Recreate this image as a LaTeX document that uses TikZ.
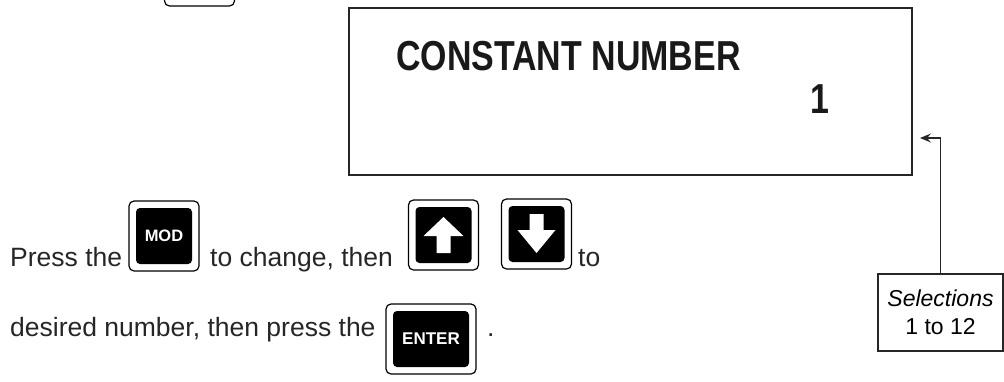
\documentclass[tikz,border=0pt]{standalone}
\usepackage{fontspec}
\setmainfont{Liberation Sans}
\newfontfamily\lcdfont{Liberation Sans}[FakeStretch=0.81]
\usepackage{tikz}
\usetikzlibrary{arrows.meta, positioning, calc}

\begin{document}
\begin{tikzpicture}[
		x=1pt, y=-1pt,
		font=\fontsize{26.5}{32}\selectfont,
		keyOut/.style={rectangle, rounded corners=5pt, draw=black, line width=1.2pt, fill=white, minimum width=70pt, minimum height=70pt, inner sep=0pt},
		keyIn/.style={rectangle, rounded corners=4pt, fill=black, text=white, minimum width=56pt, minimum height=56pt, inner sep=0pt, font=\bfseries\fontsize{16.5}{16.5}\selectfont},
		lcdBox/.style={rectangle, draw=black!85, line width=1.5pt, minimum width=563pt, minimum height=167pt},
		lcdText/.style={anchor=base west, inner sep=0pt, text=black!90, font=\lcdfont\bfseries\fontsize{41.9}{44}\selectfont},
		noteBox/.style={rectangle, draw=black!85, line width=1.3pt, minimum width=125pt, minimum height=77pt, align=center, inner sep=0pt, font=\fontsize{23}{28}\selectfont},
		txt/.style={anchor=base west, inner sep=0pt, text=black!85},
		arrow/.style={-{Stealth[length=11pt, width=9pt, inset=4pt]}, line width=1.4pt, draw=black!85}
		]

		\useasboundingbox (0,0) rectangle (1004,381);
		\clip (0,0) rectangle (1004,381);

		% Display
		\node[lcdBox] (lcd) at (630.5,91.5) {};
		\node[lcdText] (title) at (396,70) {CONSTANT NUMBER};
		\node[lcdText, anchor=base] (value) at (820,113) {1};

		% Keys
		\node[keyOut] (topKey) at (199.5,-29) {};
		\node[keyOut] (modOut) at (164,236) {};
		\node[keyIn] (mod) at (modOut) {MOD};
		\node[keyOut] (upOut) at (443.5,235) {};
		\node[keyIn] (up) at (upOut) {};
		\node[keyOut] (downOut) at (536.5,234) {};
		\node[keyIn] (down) at (downOut) {};
		\node[keyOut, minimum width=90pt] (enterOut) at (431,339) {};
		\node[keyIn, minimum width=76pt, font=\bfseries\fontsize{17}{17}\selectfont] (enter) at (enterOut) {ENTER};

		% Arrow glyphs on the keys
		\fill[white, shift={(up.center)}] (0,-18) -- (20,1) -- (7,1) -- (7,18) -- (-7,18) -- (-7,1) -- (-20,1) -- cycle;
		\fill[white, shift={(down.center)}] (0,19) -- (19,-4) -- (7,-4) -- (7,-20) -- (-7,-20) -- (-7,-4) -- (-19,-4) -- cycle;

		% Text
		\node[txt] (press) at (10,266) {Press the};
		\node[txt] (change) at (210,266) {to change, then};
		\node[txt] (to) at (578,266) {to};
		\node[txt] (desired) at (10,336) {desired number, then press the};
		\node[txt] (dot) at (487,336) {.};

		% Selections
		\node[noteBox] (sel) at (940.5,312.5) {\textit{Selections}\\1 to 12};
		\coordinate (selTip) at (920,138);
		\draw[arrow] (sel.north) |- (selTip);

	\end{tikzpicture}
\end{document}
